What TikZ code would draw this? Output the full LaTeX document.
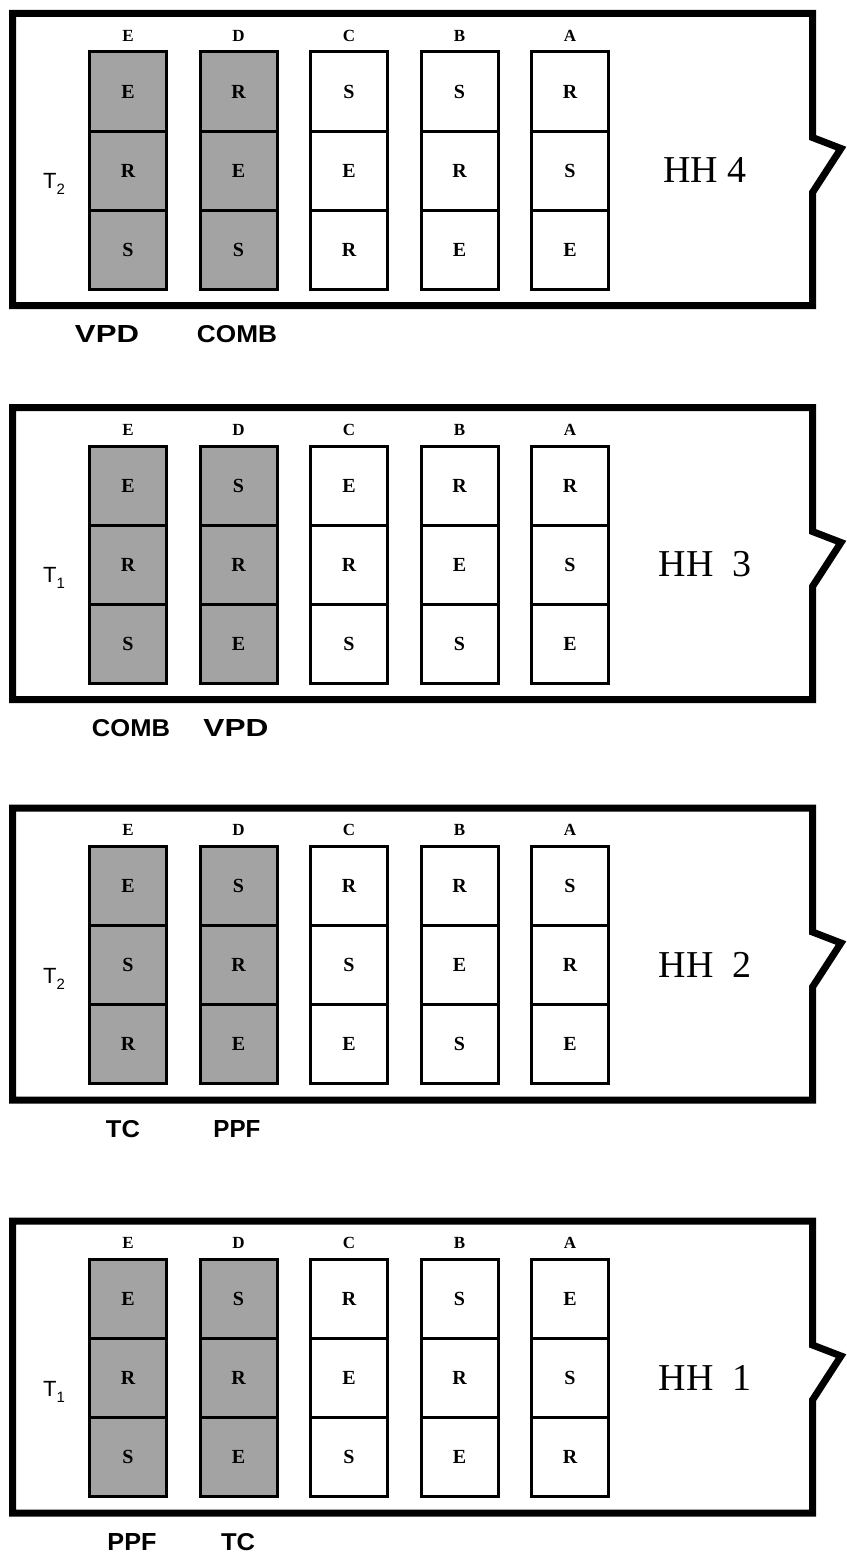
\documentclass[tikz,border=0pt]{standalone}
\usepackage{fontspec}
\usepackage{graphicx}
\setmainfont{Liberation Serif}
\newfontfamily\sansf{Liberation Sans}
\newcommand\fitlabel[2]{\resizebox{#2pt}{17pt}{\sansf\bfseries #1}}
\tikzset{
  frame/.style={line width=7pt, line join=miter, miter limit=20},
  cellbase/.style={draw, line width=3pt, minimum width=77pt, minimum height=79pt,
                   inner sep=0pt, font=\bfseries\fontsize{20}{20}\selectfont},
  shadecell/.style={cellbase, fill=black!36},
  whitecell/.style={cellbase, fill=white},
  colhead/.style={font=\bfseries\fontsize{17}{17}\selectfont, inner sep=0pt},
  tlabel/.style={font=\sansf\fontsize{22}{22}\selectfont, inner sep=0pt, anchor=base},
  hhlabel/.style={font=\fontsize{38}{38}\selectfont, inner sep=0pt, anchor=base},
  botlabel/.style={inner sep=0pt, anchor=base}
}
% #1 id, #2 top, #3 T subscript, #4 HH text, #5/#6 label text/width/x, #7 unused, #8 columns
\newcommand\drawpanel[8]{%
  \draw[frame] (12.5,#2) -- (812.5,#2) -- (812.5,{#2+124}) -- (841,{#2+135})
     -- (812.5,{#2+179}) -- (812.5,{#2+292}) -- (12.5,{#2+292}) -- cycle;
  \node[tlabel] (#1-t) at (54,{#2+175}) {T\raisebox{-0.28em}{\fontsize{15}{15}\selectfont #3}};
  \node[hhlabel] (#1-hh) at (705,{#2+169}) {#4};
  \foreach \s/\h/\a/\b/\c [count=\i] in {#8} {
    \node[colhead] (#1-h\i) at ({128+110.5*(\i-1)},{#2+22}) {\h};
    \node[\s] (#1-\i-1) at ({128+110.5*(\i-1)},{#2+78}) {\a};
    \node[\s] (#1-\i-2) at ({128+110.5*(\i-1)},{#2+157}) {\b};
    \node[\s] (#1-\i-3) at ({128+110.5*(\i-1)},{#2+236}) {\c};
  }
  \foreach \txt/\w/\x [count=\j] in {#5,#6} {
    \node[botlabel] (#1-lab\j) at (\x,{#2+329}) {\fitlabel{\txt}{\w}};
  }
}
\begin{document}
\begin{tikzpicture}[x=1pt,y=-1pt]
  \useasboundingbox (0,0) rectangle (846,1555);
  \fill[white] (0,0) rectangle (846,1555);
  \drawpanel{p4}{13.5}{2}{HH 4}{VPD/64/107}{COMB/80/237}{}
  {shadecell/E/E/R/S, shadecell/D/R/E/S, whitecell/C/S/E/R, whitecell/B/S/R/E, whitecell/A/R/S/E}
  \drawpanel{p3}{407.5}{1}{HH\hspace{0.5em}3}{COMB/78/131}{VPD/65/236}{}
  {shadecell/E/E/R/S, shadecell/D/S/R/E, whitecell/C/E/R/S, whitecell/B/R/E/S, whitecell/A/R/S/E}
  \drawpanel{p2}{808}{2}{HH\hspace{0.5em}2}{TC/34/123}{PPF/47/237}{}
  {shadecell/E/E/S/R, shadecell/D/S/R/E, whitecell/C/R/S/E, whitecell/B/R/E/S, whitecell/A/S/R/E}
  \drawpanel{p1}{1221}{1}{HH\hspace{0.5em}1}{PPF/49/132}{TC/34/238}{}
  {shadecell/E/E/R/S, shadecell/D/S/R/E, whitecell/C/R/E/S, whitecell/B/S/R/E, whitecell/A/E/S/R}
\end{tikzpicture}
\end{document}
